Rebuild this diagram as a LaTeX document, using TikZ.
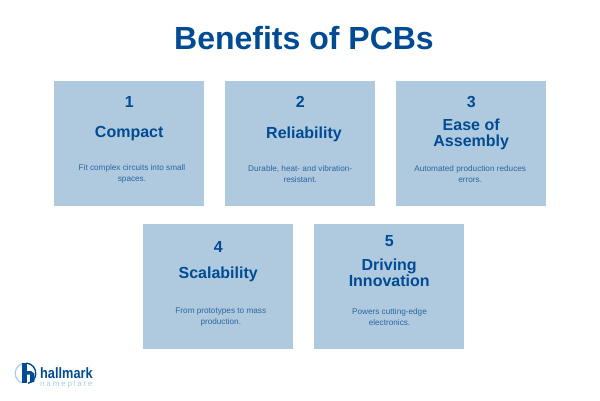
\documentclass[tikz,border=0pt]{standalone}
\usepackage{fontspec}
\usepackage{graphicx}
\setmainfont{Liberation Sans}
\definecolor{boxfill}{HTML}{AFCADF}
\definecolor{navy}{HTML}{004B93}
\definecolor{desc}{HTML}{2A669F}
\definecolor{lightlogo}{HTML}{A9CDEE}
\tikzset{
  cardbox/.style={fill=boxfill,draw=none,minimum width=150pt,minimum height=125pt,inner sep=0pt,anchor=north west},
  numtext/.style={text=navy,font=\fontsize{16}{18}\selectfont\bfseries,anchor=center,inner sep=0pt},
  headtext/.style={text=navy,font=\fontsize{16}{16}\selectfont\bfseries,anchor=center,align=center,inner sep=0pt},
  desctext/.style={text=desc,font=\fontsize{8.2}{10.6}\selectfont,anchor=center,align=center,inner sep=0pt},
}
\newcommand{\descdx}{0}
\newcommand{\card}[9]{% id,x,y(top),num,head,desc,num dy,head dy,head dx
  \node[cardbox] (c#1) at (#2,-#3) {};
  \node[numtext] (n#1) at ([yshift=-#7pt]c#1.north) {#4};
  \node[headtext] (h#1) at ([xshift=#9pt,yshift=-#8pt]c#1.north) {#5};
  \node[desctext] (d#1) at ([xshift=\descdx pt,yshift=-93pt]c#1.north) {#6};
}
\begin{document}
\begin{tikzpicture}[x=1pt,y=1pt]
\useasboundingbox (0,-400) rectangle (600,0);
\node[text=navy,font=\fontsize{32}{36}\selectfont\bfseries,inner sep=0pt] (title) at (304,-38) {Benefits of PCBs};
\renewcommand{\descdx}{2.8}
\card{1}{54}{81}{1}{Compact}{Fit complex circuits into small\\spaces.}{21.3}{53}{0}
\renewcommand{\descdx}{0}
\card{2}{225}{81}{2}{Reliability}{Durable, heat- and vibration-\\resistant.}{21.3}{53}{3.8}
\renewcommand{\descdx}{-1}
\card{3}{396}{81}{3}{Ease of\\Assembly}{Automated production reduces\\errors.}{21.3}{53}{0}
\renewcommand{\descdx}{2.6}
\card{4}{143}{224}{4}{Scalability}{From prototypes to mass\\production.}{22.7}{50}{0}
\renewcommand{\descdx}{0.3}
\card{5}{314}{224}{5}{Driving\\Innovation}{Powers cutting-edge\\electronics.}{17.3}{48.5}{0}
% logo
\draw[lightlogo,line width=1.2pt] (25.5,-373.3) ++(110:10.3) arc (110:250:10.3);
\draw[navy,line width=1.4pt] (25.5,-373.3) ++(85:10.3) arc (85:-75:10.3);
\fill[navy] (21.7,-363) rectangle (26.7,-383);
\fill[navy] (26.7,-371) -- (31,-371) -- (34.3,-373.5) -- (34.3,-382) -- (30,-382.6) -- (30,-374.5) -- (26.7,-374.5) -- cycle;
\node[text=navy,font=\fontsize{15}{16}\selectfont\bfseries,anchor=west,inner sep=0pt] (logoa) at (40,-373) {\scalebox{0.85}[1]{hallmark}};
\node[text=lightlogo,font=\fontsize{8}{9}\selectfont,anchor=west,inner sep=0pt] (logob) at (40,-384.5) {\addfontfeature{LetterSpace=23}nameplate};
\end{tikzpicture}
\end{document}
